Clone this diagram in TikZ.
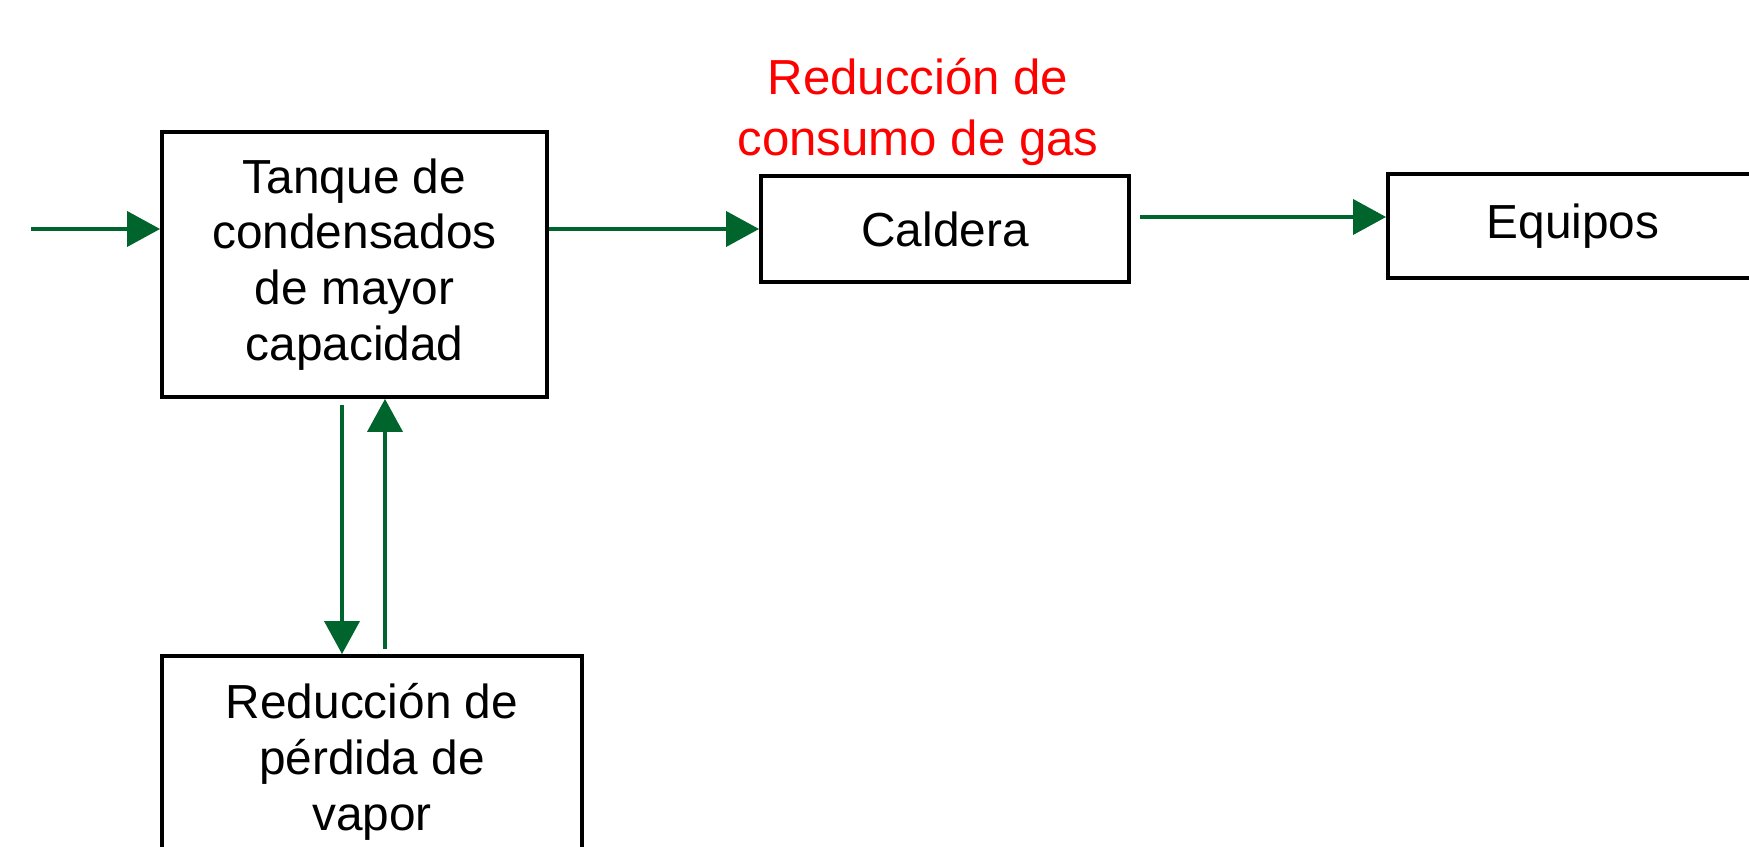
\documentclass[tikz,border=0pt]{standalone}
\usepackage{fontspec}
\setmainfont{Liberation Sans}
\usepackage{xcolor}
\usepackage{tikz}
\usetikzlibrary{arrows.meta}
\definecolor{flowgreen}{RGB}{0,100,45}

\begin{document}
\begin{tikzpicture}[
	box/.style={draw, line width=1.1pt, align=center, inner sep=0pt,
		font=\fontsize{13.6}{15.9}\selectfont},
	flow/.style={draw=flowgreen, line width=1pt,
		-{Triangle[length=9.4pt,width=10pt]}}]
				\useasboundingbox (0,0) rectangle (17.49,-8.47);
				
				% blocks
				\node[box, minimum width=3.85cm, minimum height=2.65cm] (tank) at (3.545,-2.645)
					{Tanque de\\condensados\\de mayor\\capacidad};
				\node[box, minimum width=3.68cm, minimum height=1.06cm] (caldera) at (9.45,-2.29) {Caldera};
				\node[box, minimum width=3.70cm, minimum height=1.04cm] (equipos) at (15.73,-2.26)
					{\raisebox{-0.03cm}{Equipos}};
				\node[box, minimum width=4.20cm, minimum height=2.12cm] (perdida) at (3.72,-7.62)
					{Reducción de\\pérdida de\\vapor};
				
				% red note above the boiler
				\node[text=red, align=center, font=\fontsize{14}{17.1}\selectfont] (gas) at (9.18,-1.12)
					{Reducción de\\consumo de gas};
				
				% free ends of the flows
				\foreach \x/\a/\b in
				{in/0.31/-2.29, out/11.40/-2.17, down/3.42/-4.05, up/3.85/-6.49}{
					\coordinate (\x) at (\a,\b);
				}
				
				\draw[flow] (in) -- (in -| tank.west);
				\draw[flow] (tank.east |- caldera.west) -- (caldera.west);
				\draw[flow] (out) -- (out -| equipos.west);
				\draw[flow] (down) -- (down |- perdida.north);
				\draw[flow] (up) -- (up |- tank.south);
			\end{tikzpicture}
\end{document}
